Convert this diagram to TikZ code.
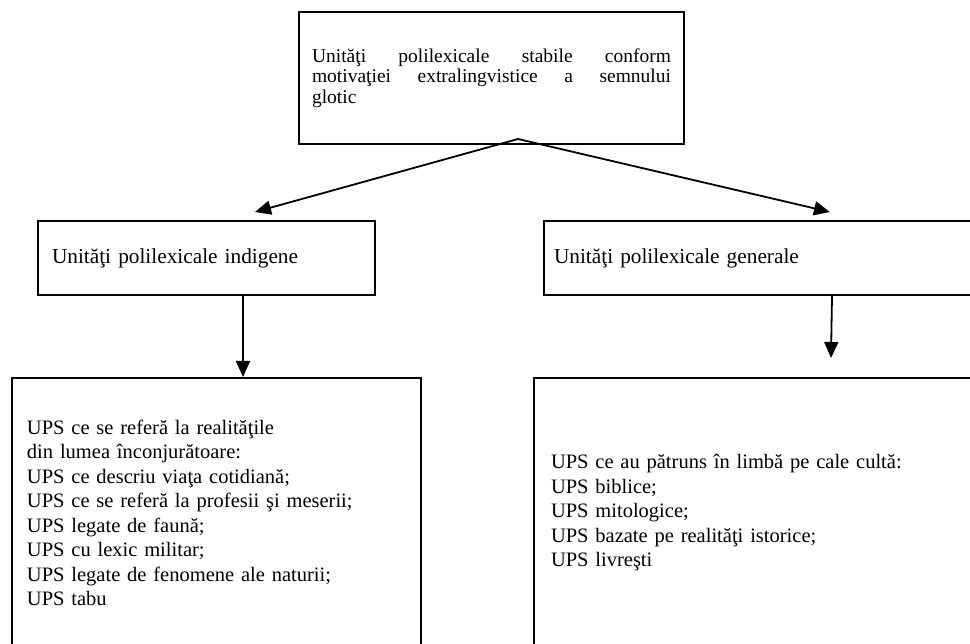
\documentclass[tikz,border=0pt]{standalone}
\usepackage{fontspec}
\setmainfont{Liberation Serif}
\usetikzlibrary{arrows.meta}

\begin{document}
\begin{tikzpicture}[x=1pt,y=-1pt]
    \tikzstyle{every node}=[font=\fontsize{20.5}{24.5}\selectfont]
    \tikzstyle{box}=[draw,line width=2pt,rectangle,anchor=north west,align=left]
    \tikzstyle{midtext}=[font=\fontsize{21.3}{24.5}\selectfont]
    \tikzstyle{arr}=[line width=1.8pt,-{Triangle[length=16pt,width=14pt]}]
    \def\tw{359pt}
    \useasboundingbox (0,0) rectangle (970,644);
    \clip (0,0) rectangle (970,644);
    % Draw the boxes
    \node[box,inner xsep=13pt,text width=\tw,minimum height=132pt,
          font=\fontsize{19.5}{20.3}\selectfont] (top) at (298,11)
        {\makebox[\tw][l]{Unităţi\hfill polilexicale\hfill stabile\hfill conform}\\
         \makebox[\tw][l]{motivaţiei\hfill extralingvistice\hfill a\hfill semnului}\\
         glotic\\[10pt]};
    \node[box,midtext,inner xsep=14pt,text width=309pt,minimum height=74pt] (lmid) at (37,220)
        {Unităţi polilexicale indigene};
    \node[box,midtext,inner xsep=10pt,text width=420pt,minimum height=74pt] (rmid) at (543,220)
        {Unităţi polilexicale generale};
    \node[box,inner xsep=15pt,text width=379pt,minimum height=270pt] (lbot) at (11,377)
        {UPS ce se referă la realităţile\\
         din lumea înconjurătoare:\\
         UPS ce descriu viaţa cotidiană;\\
         UPS ce se referă la profesii şi meserii;\\
         UPS legate de faună;\\
         UPS cu lexic militar;\\
         UPS legate de fenomene ale naturii;\\
         UPS tabu};
    \node[box,inner xsep=17pt,text width=430pt,minimum height=270pt] (rbot) at (533,377)
        {UPS ce au pătruns în limbă pe cale cultă:\\
         UPS biblice;\\
         UPS mitologice;\\
         UPS bazate pe realităţi istorice;\\
         UPS livreşti};
    % Draw the arrows
    \draw[arr] ([xshift=220pt,yshift=6pt]top.south west) -- ([xshift=218pt,yshift=8pt]lmid.north west);
    \draw[arr] ([xshift=220pt,yshift=6pt]top.south west) -- ([xshift=287pt,yshift=8pt]rmid.north west);
    \draw[arr] ([xshift=206pt]lmid.south west) -- ([xshift=232pt]lbot.north west);
    \draw[arr] ([xshift=289pt]rmid.south west) -- ([xshift=298pt,yshift=19pt]rbot.north west);
\end{tikzpicture}
\end{document}
